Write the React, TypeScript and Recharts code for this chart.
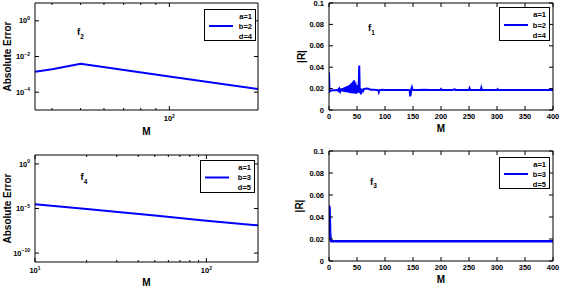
import React from 'react';
import { LineChart, Line, XAxis, YAxis, Legend } from 'recharts';

const FONT = '"Liberation Sans", Arial, Helvetica, sans-serif';

// ---- data ----
// f2 : absolute error vs M (log-log)
const f2M = [35, 40, 50, 100, 200];
const f2Err = [1.38e-3, 1.95e-3, 3.9e-3, 7.6e-4, 1.48e-4];

// f4 : absolute error vs M (log-log)
const f4M = [10, 20, 50, 100, 200];
const f4Err = [3.0e-5, 8.7e-6, 1.65e-6, 4.1e-7, 1.3e-7];

// f1 : |R| vs M
const f1M = [
  0, 1, 2, 3, 5, 8, 10, 12, 14,
  15, 16, 17, 18, 19, 20, 21, 22, 23, 24, 25, 26, 27, 28, 29, 30,
  31, 32, 33, 34, 35, 36, 37, 38, 39, 40, 41, 42, 43, 44, 45, 46,
  47, 48, 49, 50, 51, 52, 53, 54, 55, 56, 57, 58, 59, 60, 61, 62,
  63, 65, 67, 70, 72, 75, 80, 85, 88, 89, 90, 95, 100, 110, 120, 130,
  140, 144, 145, 146, 147, 148, 149, 150, 160, 170, 180, 190, 199, 200,
  201, 210, 220, 225, 226, 240, 250, 251, 252, 260, 271, 272, 273, 280,
  300, 301, 302, 320, 340, 360, 380, 400,
];
const f1R = [
  0.0352, 0.0172, 0.0178, 0.0182, 0.0183, 0.0184, 0.0185, 0.0185, 0.0186,
  0.0188, 0.0182, 0.0192, 0.018, 0.0195, 0.0178, 0.0198, 0.0176, 0.0201, 0.0174, 0.0205, 0.0172, 0.0209, 0.017, 0.0213, 0.0168,
  0.0218, 0.0166, 0.0223, 0.0164, 0.0229, 0.0162, 0.0236, 0.016, 0.0244, 0.0158, 0.0254, 0.0157, 0.0266, 0.0155, 0.0278, 0.0156,
  0.026, 0.0152, 0.0235, 0.0158, 0.0225, 0.0165, 0.022, 0.0415, 0.0158, 0.0205, 0.0145, 0.019, 0.0165, 0.0198, 0.0182, 0.0196,
  0.0195, 0.0198, 0.0201, 0.0199, 0.0193, 0.019, 0.0189, 0.0188, 0.0186, 0.0168, 0.0185, 0.0189, 0.0188, 0.0188, 0.0188, 0.0188,
  0.0187, 0.0186, 0.0128, 0.0148, 0.0196, 0.0212, 0.0192, 0.0188, 0.0188, 0.0189, 0.0188, 0.0188, 0.0188, 0.0196,
  0.0188, 0.0188, 0.0188, 0.0193, 0.0188, 0.0188, 0.0188, 0.0203, 0.0188, 0.0188, 0.0188, 0.0208, 0.0188, 0.0188,
  0.0188, 0.0195, 0.0188, 0.0188, 0.0188, 0.0188, 0.0188, 0.0188,
];

// f3 : |R| vs M
const f3M = [0, 1, 2, 3, 4, 10, 50, 100, 150, 200, 250, 300, 350, 400];
const f3R = [0.0505, 0.0485, 0.026, 0.0185, 0.018, 0.018, 0.018, 0.018, 0.018, 0.018, 0.018, 0.018, 0.018, 0.018];

// ticks
const logXTicksTop = [40, 50, 60, 70, 80, 90, 100];
const logXMajorTop = [100];
const logXTicksBot = [10, 20, 30, 40, 50, 60, 70, 80, 90, 100];
const logXMajorBot = [10, 100];
const logYTicksTop = [1, 1e-2, 1e-4];
const logYTicksBot = [1, 1e-5, 1e-10];
const linXTicks = [0, 50, 100, 150, 200, 250, 300, 350, 400];
const linYTicks = [0, 0.02, 0.04, 0.06, 0.08, 0.1];

const legendTop = ['a=1', 'b=2', 'd=4'];
const legendBot = ['a=1', 'b=3', 'd=5'];

const BLUE = '#0000ff';

const txt = { fontFamily: FONT, fontSize: 7.5, fontWeight: 700, fill: '#000' } as const;

function powLabel(v: number) {
  const e = Math.round(Math.log10(v));
  const s = e < 0 ? '\u2212' + String(-e) : String(e);
  return (
    <>
      10<tspan dy={-3.5} fontSize={5}>{s}</tspan>
    </>
  );
}
function linLabel(v: number) {
  return String(Number(v.toFixed(2)));
}

type Side = 'bottom' | 'top' | 'left' | 'right';

function makeTick(side: Side, gap: number, majors: number[], fmt: ((v: number) => React.ReactNode) | null) {
  return (props: any) => {
    const { x, y, payload } = props;
    const v = payload.value;
    const isMajor = majors.some((m) => Math.abs(m - v) <= Math.abs(v) * 1e-9 + 1e-12);
    const len = isMajor ? 4 : 2;
    let x1 = x, x2 = x, y1 = y, y2 = y;
    if (side === 'bottom') { y1 = y - gap; y2 = y1 - len; }
    if (side === 'top') { y1 = y + gap; y2 = y1 + len; }
    if (side === 'left') { x1 = x + gap; x2 = x1 + len; }
    if (side === 'right') { x1 = x - gap; x2 = x1 - len; }
    let label: React.ReactNode = null;
    if (fmt && isMajor) {
      if (side === 'bottom') {
        label = (
          <text x={x} y={y} dy="0.71em" textAnchor="middle" {...txt}>
            {fmt(v)}
          </text>
        );
      } else if (side === 'left') {
        label = (
          <text x={x} y={y} dy="0.35em" textAnchor="end" {...txt}>
            {fmt(v)}
          </text>
        );
      }
    }
    return (
      <g>
        <line x1={x1} y1={y1} x2={x2} y2={y2} stroke="#000" strokeWidth={1} />
        {label}
      </g>
    );
  };
}

type PanelCfg = {
  x: number; y: number; w: number; h: number;
  xs: number[]; ys: number[];
  logX: boolean; logY: boolean;
  xDomain: [number, number]; yDomain: [number, number];
  xTicks: number[]; xMajor: number[];
  yTicks: number[];
  yLabel: string; yLabelX: number; xLabelDy: number; xTickGap: number;
  legend: string[]; lx: number; ly: number; lw: number; lh: number;
  strokeWidth: number;
};

function LegendBox({ items, w, h }: { items: string[]; w: number; h: number }) {
  const rowH = (h - 2) / 3;
  return (
    <div style={{ width: w, height: h, boxSizing: 'border-box', border: '1px solid #000', background: '#fff' }}>
      <svg width={w - 2} height={h - 2} style={{ display: 'block' }}>
        {items.map((t, i) => (
          <g key={t}>
            <text x={w - 5} y={rowH * (i + 0.5) + 1} dy="0.35em" textAnchor="end" {...txt}>
              {t}
            </text>
            {i === 1 ? <line x1={4} x2={28} y1={rowH * 1.5 + 1} y2={rowH * 1.5 + 1} stroke={BLUE} strokeWidth={2} /> : null}
          </g>
        ))}
      </svg>
    </div>
  );
}

function Panel({ c }: { c: PanelCfg }) {
  const ML = 40, MR = 10, MT = 4, MB = 34;
  const W = ML + c.w + 1 + MR;
  const H = MT + c.h + MB;
  const data = c.xs.map((m, i) => ({ M: m, v: c.ys[i] }));
  const xScale = c.logX ? 'log' : 'linear';
  const yScale = c.logY ? 'log' : 'linear';
  const yMajor = c.yTicks;
  const xFmt = c.logX ? powLabel : linLabel;
  const yFmt = c.logY ? powLabel : linLabel;
  const left = c.x - ML;
  const top = c.y - MT;
  return (
    <div style={{ position: 'absolute', left, top }}>
      <LineChart width={W} height={H} data={data} margin={{ top: MT - 1, right: MR, bottom: 0, left: 0 }}>
        <XAxis
          dataKey="M" type="number" scale={xScale as any} domain={c.xDomain} allowDataOverflow
          ticks={c.xTicks} interval={0} tickSize={0} tickMargin={c.xTickGap} tickLine={false}
          axisLine={{ stroke: '#000', strokeWidth: 1 }} height={MB}
          tick={makeTick('bottom', c.xTickGap, c.xMajor, xFmt)}
          label={(p: any) => {
            const vb = p.viewBox;
            return (
              <text x={vb.x + vb.width / 2} y={vb.y + c.xLabelDy} textAnchor="middle" dy="0.35em"
                fontFamily={FONT} fontSize={10} fontWeight={700} fill="#000">M</text>
            );
          }}
        />
        <XAxis
          xAxisId="top" orientation="top" dataKey="M" type="number" scale={xScale as any} domain={c.xDomain}
          allowDataOverflow ticks={c.xTicks} interval={0} tickSize={0} tickMargin={0} tickLine={false}
          axisLine={{ stroke: '#000', strokeWidth: 1 }} height={1}
          tick={makeTick('top', 0, c.xMajor, null)}
        />
        <YAxis
          type="number" scale={yScale as any} domain={c.yDomain} allowDataOverflow
          ticks={c.yTicks} interval={0} tickSize={0} tickMargin={5} tickLine={false}
          axisLine={{ stroke: '#000', strokeWidth: 1 }} width={ML}
          tick={makeTick('left', 5, yMajor, yFmt)}
          label={(p: any) => {
            const vb = p.viewBox;
            const cx = c.yLabelX - left;
            const cy = vb.y + vb.height / 2;
            return (
              <text x={cx} y={cy} textAnchor="middle" dy="0.35em" transform={`rotate(-90 ${cx} ${cy})`}
                fontFamily={FONT} fontSize={10} fontWeight={700} fill="#000">{c.yLabel}</text>
            );
          }}
        />
        <YAxis
          yAxisId="right" orientation="right" type="number" scale={yScale as any} domain={c.yDomain}
          allowDataOverflow ticks={c.yTicks} interval={0} tickSize={0} tickMargin={0} tickLine={false}
          axisLine={{ stroke: '#000', strokeWidth: 1 }} width={1}
          tick={makeTick('right', 0, yMajor, null)}
        />
        <Line
          dataKey="v" name={c.legend[1]} type="linear" stroke={BLUE} strokeWidth={c.strokeWidth}
          dot={false} activeDot={false} isAnimationActive={false}
        />
        <Legend
          layout="vertical" align="center" verticalAlign="middle"
          wrapperStyle={{ left: c.lx - left, top: c.ly - top, width: c.lw, height: c.lh }}
          content={() => <LegendBox items={c.legend} w={c.lw} h={c.lh} />}
        />
      </LineChart>
    </div>
  );
}

const panels: PanelCfg[] = [
  {
    x: 35, y: 3, w: 223, h: 107, xs: f2M, ys: f2Err, logX: true, logY: true,
    xDomain: [35, 200], yDomain: [1e-5, 10], xTicks: logXTicksTop, xMajor: logXMajorTop,
    yTicks: logYTicksTop, yLabel: 'Absolute Error', yLabelX: 7.5, xLabelDy: 21, xTickGap: 6,
    legend: legendTop, lx: 204, ly: 9, lw: 52, lh: 32, strokeWidth: 2,
  },
  {
    x: 329, y: 3, w: 224, h: 107, xs: f1M, ys: f1R, logX: false, logY: false,
    xDomain: [0, 400], yDomain: [0, 0.1], xTicks: linXTicks, xMajor: linXTicks,
    yTicks: linYTicks, yLabel: '|R|', yLabelX: 301, xLabelDy: 18, xTickGap: 4,
    legend: legendTop, lx: 499, ly: 7, lw: 51, lh: 34, strokeWidth: 2,
  },
  {
    x: 35, y: 155, w: 223, h: 107, xs: f4M, ys: f4Err, logX: true, logY: true,
    xDomain: [10, 200], yDomain: [1e-11, 10], xTicks: logXTicksBot, xMajor: logXMajorBot,
    yTicks: logYTicksBot, yLabel: 'Absolute Error', yLabelX: 7.5, xLabelDy: 20, xTickGap: 6,
    legend: legendBot, lx: 200, ly: 160, lw: 55, lh: 33, strokeWidth: 2,
  },
  {
    x: 329, y: 151, w: 224, h: 110, xs: f3M, ys: f3R, logX: false, logY: false,
    xDomain: [0, 400], yDomain: [0, 0.1], xTicks: linXTicks, xMajor: linXTicks,
    yTicks: linYTicks, yLabel: '|R|', yLabelX: 299, xLabelDy: 18, xTickGap: 4,
    legend: legendBot, lx: 499, ly: 157, lw: 51, lh: 32, strokeWidth: 2.5,
  },
];

const notes = [
  { x: 77, y: 35, main: 'f', sub: '2' },
  { x: 368, y: 31, main: 'f', sub: '1' },
  { x: 80.5, y: 180, main: 'f', sub: '4' },
  { x: 370, y: 184.5, main: 'f', sub: '3' },
];

export default function App() {
  return (
    <div style={{ position: 'absolute', left: 0, top: 0, width: 561, height: 288, background: '#fff', overflow: 'hidden' }}>
      {panels.map((c, i) => (
        <Panel key={i} c={c} />
      ))}
      <svg width={561} height={288} style={{ position: 'absolute', left: 0, top: 0, pointerEvents: 'none' }}>
        {notes.map((n, i) => (
          <text key={i} x={n.x} y={n.y} fontFamily={FONT} fontSize={9.5} fontWeight={700} fill="#000">
            {n.main}
            <tspan dy={3.5} fontSize={6.5}>{n.sub}</tspan>
          </text>
        ))}
      </svg>
    </div>
  );
}
